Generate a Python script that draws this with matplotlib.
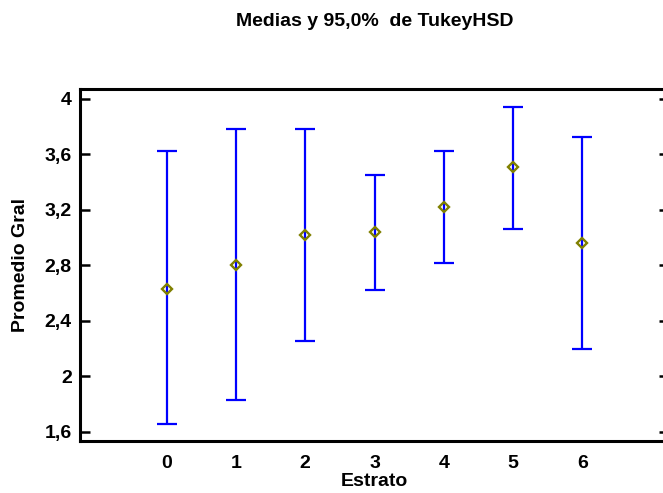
import matplotlib
matplotlib.use("Agg")
import matplotlib.pyplot as plt
from matplotlib.ticker import FuncFormatter

categories = ["0", "1", "2", "3", "4", "5", "6"]
means = [2.631, 2.806, 3.019, 3.038, 3.223, 3.509, 2.962]
upper = [3.626, 3.782, 3.782, 3.453, 3.626, 3.940, 3.724]
lower = [1.655, 1.827, 2.259, 2.620, 2.818, 3.065, 2.201]
yticks = [1.6, 2.0, 2.4, 2.8, 3.2, 3.6, 4.0]

plt.rcParams['font.family'] = ['Liberation Sans', 'DejaVu Sans']
plt.rcParams['font.weight'] = 'bold'

FS = 14

W, H = 663, 493
fig = plt.figure(figsize=(W / 100, H / 100), dpi=100)
ax = fig.add_axes([80 / W, (H - 441) / H, (669 - 80) / W, (441 - 89) / H])

x = list(range(len(categories)))
yerr = [[m - l for m, l in zip(means, lower)], [u - m for u, m in zip(upper, means)]]
ax.errorbar(x, means, yerr=yerr, fmt='none', ecolor='#0000ff', elinewidth=1.6,
            capsize=7, capthick=1.6, zorder=2)
ax.plot(x, means, linestyle='none', marker='D', markersize=5,
        markerfacecolor='none', markeredgecolor='#808000', markeredgewidth=1.7, zorder=3)

ax.set_xlim(-1.25, 7.25)
ax.set_ylim(1.535, 4.072)
ax.set_xticks(x)
ax.set_xticklabels(categories)
ax.set_yticks(yticks)
ax.yaxis.set_major_formatter(FuncFormatter(lambda v, p: f"{v:g}".replace('.', ',')))

for s in ax.spines.values():
    s.set_linewidth(2.2)
ax.tick_params(axis='y', which='major', direction='in', length=7.5, width=1.8,
               left=True, right=True, labelsize=FS, pad=6)
ax.tick_params(axis='x', which='major', length=0, labelsize=FS, pad=10)

ax.set_xlabel("Estrato", fontsize=FS, fontweight='bold', labelpad=1)
ax.set_ylabel("Promedio Gral", fontsize=FS, fontweight='bold', labelpad=11)
fig.text((80 + 669) / 2 / W, 1 - 21 / H, "Medias y 95,0%  de TukeyHSD",
         ha='center', va='center', fontsize=FS, fontweight='bold')

fig.savefig("out.png", dpi=100)
